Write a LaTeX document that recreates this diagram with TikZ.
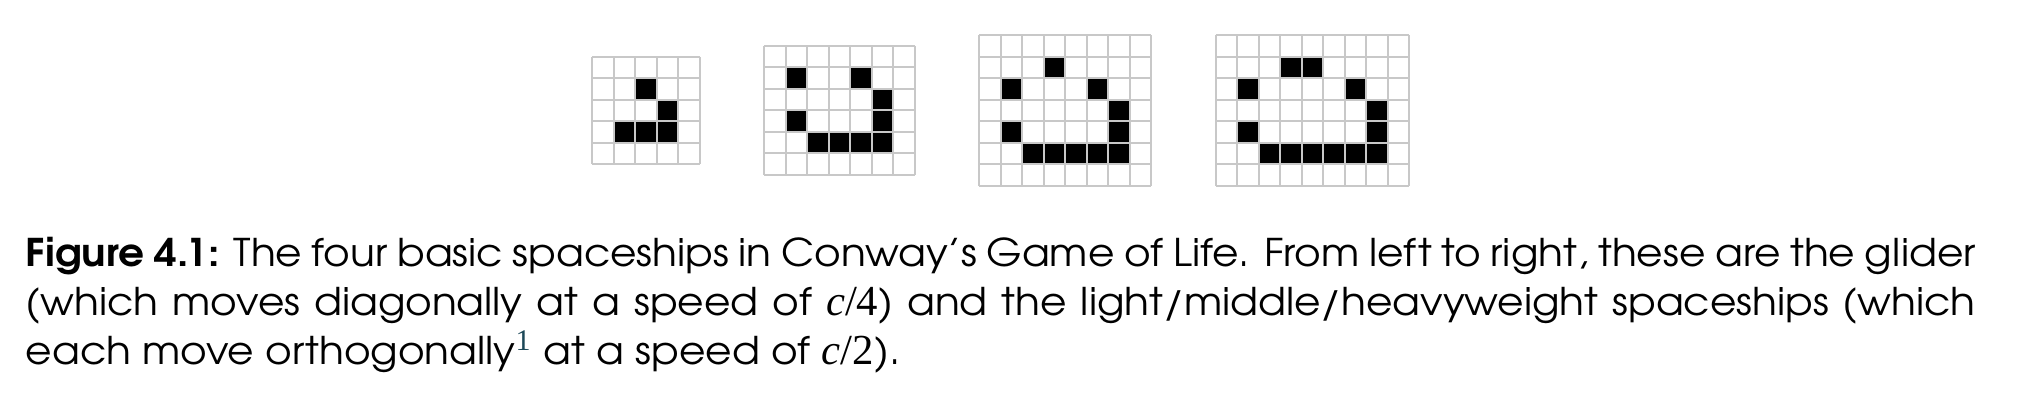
\documentclass[tikz,border=0pt]{standalone}
\usepackage{fontspec}
\setmainfont{texgyreadventor}[Extension=.otf, UprightFont=*-regular, BoldFont=*-bold, ItalicFont=*-italic, BoldItalicFont=*-bolditalic, FakeStretch=1.065]
\newfontfamily\mathserif[Scale=1.12]{Liberation Serif}
\definecolor{gridgray}{RGB}{200,200,200}
\definecolor{fnteal}{RGB}{28,72,88}
\newcommand{\cvar}[1]{{\mathserif\itshape c}{\mathserif/#1}}
\tikzset{
  cellgrid/.style={draw=gridgray, line width=0.5pt},
  alive/.style={fill=black},
  capline/.style={anchor=base west, inner sep=0pt, font=\fontsize{9.55pt}{12.25pt}\selectfont}
}
\newcommand{\lifegrid}[2]{%
  \foreach \i in {0,...,#1} \draw[cellgrid] (\i,0) -- (\i,#2);
  \foreach \j in {0,...,#2} \draw[cellgrid] (0,\j) -- (#1,\j);
}
\begin{document}
\begin{tikzpicture}[x=0.25pt, y=0.25pt]
\useasboundingbox (0,0) rectangle (2022,402);
% Glider 5x5
\begin{scope}[shift={(592,345)}, x=5.375pt, y=-5.375pt]
  \foreach \c/\r in {2/1, 3/2, 1/3, 2/3, 3/3} \fill[alive] (\c,\r) rectangle ++(1,1);
  \lifegrid{5}{5}
\end{scope}
% LWSS 7x6
\begin{scope}[shift={(764,356)}, x=5.375pt, y=-5.375pt]
  \foreach \c/\r in {1/1, 4/1, 5/2, 1/3, 5/3, 2/4, 3/4, 4/4, 5/4} \fill[alive] (\c,\r) rectangle ++(1,1);
  \lifegrid{7}{6}
\end{scope}
% MWSS 8x7
\begin{scope}[shift={(979,366.75)}, x=5.375pt, y=-5.375pt]
  \foreach \c/\r in {3/1, 1/2, 5/2, 6/3, 1/4, 6/4, 2/5, 3/5, 4/5, 5/5, 6/5} \fill[alive] (\c,\r) rectangle ++(1,1);
  \lifegrid{8}{7}
\end{scope}
% HWSS 9x7
\begin{scope}[shift={(1215.5,366.75)}, x=5.375pt, y=-5.375pt]
  \foreach \c/\r in {3/1, 4/1, 1/2, 6/2, 7/3, 1/4, 7/4, 2/5, 3/5, 4/5, 5/5, 6/5, 7/5} \fill[alive] (\c,\r) rectangle ++(1,1);
  \lifegrid{9}{7}
\end{scope}
% Caption
\node[capline] (cap1) at (25,135) {\makebox[487.5pt][s]{\textbf{Figure 4.1:} The four basic spaceships in Conway’s Game of Life. From left to right, these are the glider}};
\node[capline] (cap2) at (25,86) {\makebox[487.5pt][s]{(which moves diagonally at a speed of \cvar{4}) and the light/middle/heavyweight spaceships (which}};
\node[capline] (cap3) at (25,37) {each move orthogonally\textsuperscript{\mathserif\color{fnteal}1} at a speed of \cvar{2}).};
\end{tikzpicture}
\end{document}
